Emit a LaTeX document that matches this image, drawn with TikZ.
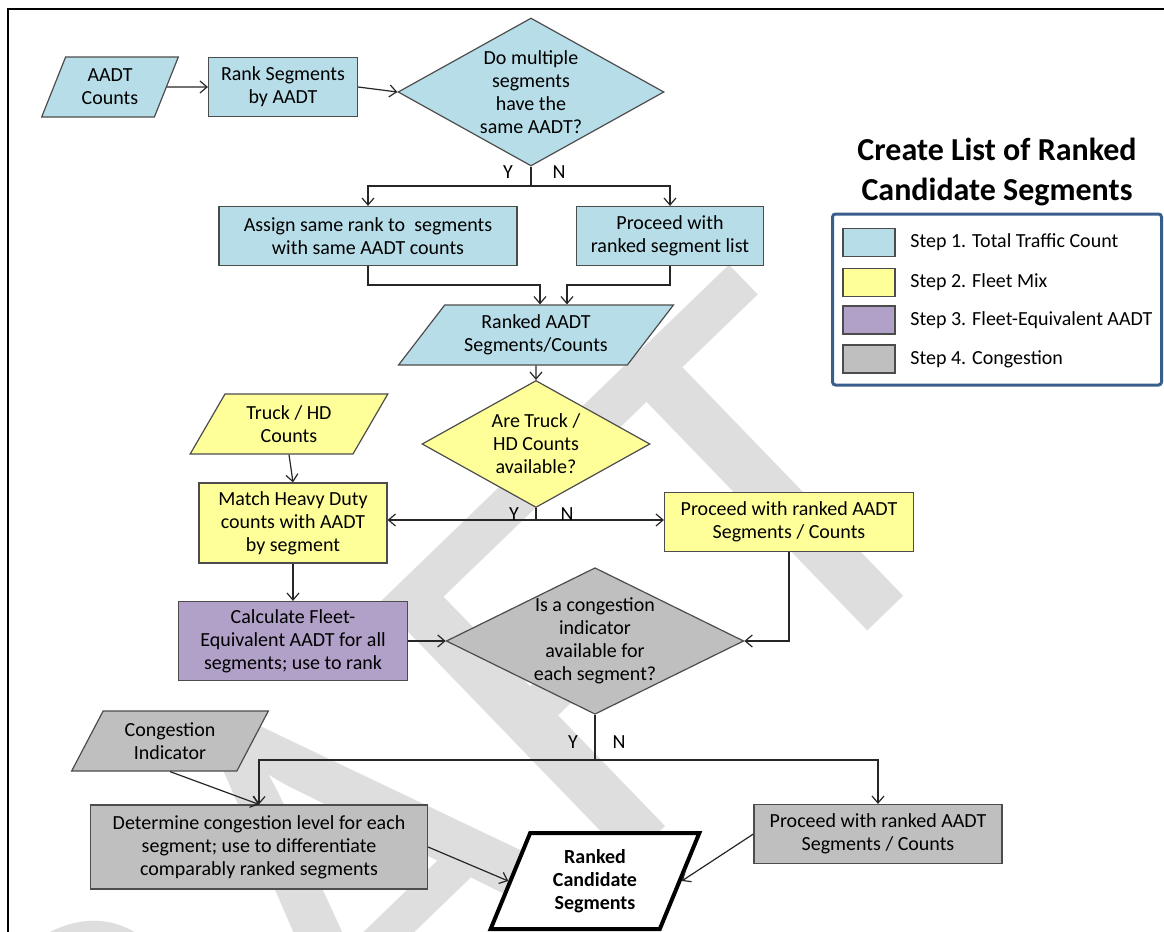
\documentclass[tikz,border=0pt]{standalone}
\usepackage{fontspec}
\setmainfont{Carlito}
\usetikzlibrary{shapes.geometric,arrows.meta}
\definecolor{stepblue}{HTML}{B7DDE8}
\definecolor{stepyellow}{HTML}{FFFF99}
\definecolor{steppurple}{HTML}{B1A0C7}
\definecolor{stepgray}{HTML}{BFBFBF}
\definecolor{legendblue}{HTML}{3A5E8C}
\definecolor{wmgray}{HTML}{DEDEDE}

\begin{document}
\begin{tikzpicture}[x=0.5pt,y=-0.5pt,
  every node/.style={font=\fontsize{10}{11.5}\selectfont, align=center, inner sep=0pt},
  box/.style={draw=black!70, line width=0.6pt, rectangle},
  io/.style={draw=black!70, line width=0.6pt, trapezium, trapezium stretches=true,
    trapezium left angle=#1, trapezium right angle=180-#1},
  decide/.style={draw=black!70, line width=0.6pt, diamond},
  flow/.style={black!85, line width=0.6pt, -{Straight Barb[length=3.5pt,width=6pt]}},
  swatch/.style={draw=black!70, line width=0.6pt, minimum width=26pt, minimum height=14pt},
]
  \useasboundingbox (0,0) rectangle (1164,932);
  % watermark and frame
  \node[text=wmgray, font=\fontsize{280}{280}\selectfont, rotate=44, anchor=base east] (wm) at (984,519) {DRAFT};
  \draw[line width=1pt] (8,960) -- (8,9) -- (1190,9);

  % step 1
  \node[io=67, fill=stepblue, minimum width=68.5pt, minimum height=30pt] (aadt) at (110,87) {AADT\\Counts};
  \node[box, fill=stepblue, minimum width=74.5pt, minimum height=29.5pt] (rank) at (283,87) {Rank Segments\\by AADT};
  \node[decide, fill=stepblue, aspect=1.8, minimum width=133pt, minimum height=74pt] (same) at (531,92) {Do multiple\\segments\\have the\\same AADT?};
  \node[box, fill=stepblue, minimum width=149pt, minimum height=29.5pt] (assign) at (368,236) {Assign same rank to~ segments\\with same AADT counts};
  \node[box, fill=stepblue, minimum width=93.5pt, minimum height=29.5pt] (list) at (670,236) {Proceed with\\ranked segment list};
  \node[io=48, fill=stepblue, minimum width=137.5pt, minimum height=30pt] (rankedaadt) at (536,335) {Ranked AADT\\Segments/Counts};

  % step 2
  \node[decide, fill=stepyellow, aspect=1.8, minimum width=114pt, minimum height=63.5pt] (truckq) at (536,444) {Are Truck /\\HD Counts\\available?};
  \node[io=58, fill=stepyellow, minimum width=99pt, minimum height=30pt] (truck) at (289,424) {Truck / HD\\Counts};
  \node[box, fill=stepyellow, minimum width=94pt, minimum height=40pt] (match) at (293,523) {Match Heavy Duty\\counts with AADT\\by segment};
  \node[box, fill=stepyellow, minimum width=124.5pt, minimum height=29.5pt] (proceedy) at (789,522) {Proceed with ranked AADT\\Segments / Counts};

  % step 3 and 4
  \node[box, fill=steppurple, minimum width=114.5pt, minimum height=39.5pt] (calc) at (293,641) {Calculate Fleet-\\Equivalent AADT for all\\segments; use to rank};
  \node[decide, fill=stepgray, aspect=2.03, minimum width=148.5pt, minimum height=73pt] (congq) at (595,641) {Is a congestion\\indicator\\available for\\each segment?};
  \node[io=60, fill=stepgray, minimum width=99pt, minimum height=30pt] (congind) at (170,741) {Congestion\\Indicator};
  \node[box, fill=stepgray, minimum width=168.5pt, minimum height=42pt] (determine) at (259,847) {Determine congestion level for each\\segment; use to differentiate\\comparably ranked segments};
  \node[box, fill=stepgray, minimum width=124pt, minimum height=29.5pt] (proceedg) at (878,834) {Proceed with ranked AADT\\Segments / Counts};
  \node[io=68, fill=white, draw=black, line width=2pt, minimum width=105pt, minimum height=48pt, font=\fontsize{10}{11.5}\selectfont\bfseries] (candidates) at (595,881) {Ranked\\Candidate\\Segments};

  % connectors
  \coordinate (j1) at (531,186);
  \coordinate (m1) at (540,285);
  \coordinate (m2) at (567,285);
  \coordinate (j2) at (536,520);
  \coordinate (j3) at (595,760);
  \draw[flow] (aadt) -- (rank);
  \draw[flow] (rank.east) -- (same.west);
  \draw[black!85, line width=0.6pt] (same.south) -- (j1);
  \draw[flow] (j1) -| (assign.north);
  \draw[flow] (j1) -| (list.north);
  \draw[flow] (assign.south) |- (m1) -- (m1 |- rankedaadt.north);
  \draw[flow] (list.south) |- (m2) -- (m2 |- rankedaadt.north);
  \draw[flow] (rankedaadt.south) -- (truckq.north);
  \draw[black!85, line width=0.6pt] (truckq.south) -- (j2);
  \draw[flow] (j2) -- (j2 -| match.east);
  \draw[flow] (j2) -- (j2 -| proceedy.west);
  \draw[flow] (truck.south) -- (match.north);
  \draw[flow] (match.south) -- (calc.north);
  \draw[flow] (calc.east) -- (congq.west);
  \draw[flow] (proceedy.south) |- (congq.east);
  \draw[black!85, line width=0.6pt] (congq.south) -- (j3);
  \draw[flow] (j3) -| (determine.north);
  \draw[flow] (j3) -| (proceedg.north);
  \draw[flow] (congind.south) -- (determine.north);
  \draw[flow] (determine.east) -- (candidates.west);
  \draw[flow] (proceedg.west) -- (candidates.east);

  % Y / N
  \node (y1) at (508,172) {Y};
  \node (n1) at (559,172) {N};
  \node (y2) at (514,514) {Y};
  \node (n2) at (567,514) {N};
  \node (y3) at (573,742) {Y};
  \node (n3) at (619,742) {N};

  % legend
  \node[font=\fontsize{16}{20}\selectfont\bfseries] (title) at (997,172) {Create List of Ranked\\Candidate Segments};
  \node[draw=legendblue, line width=1.5pt, rounded corners=1.5pt, minimum width=164.5pt, minimum height=85.5pt] (legend) at (997,299.5) {};
  \foreach \c/\t/\y [count=\i] in {stepblue/Step 1. Total Traffic Count/242.5,
      stepyellow/Step 2. Fleet Mix/282.5, steppurple/Step 3. Fleet-Equivalent AADT/320,
      stepgray/Step 4. Congestion/359}{
    \node[swatch, fill=\c] (sw\i) at (869,\y) {};
    \node[anchor=west] (st\i) at (910,\y) {\t};
  }
\end{tikzpicture}
\end{document}
